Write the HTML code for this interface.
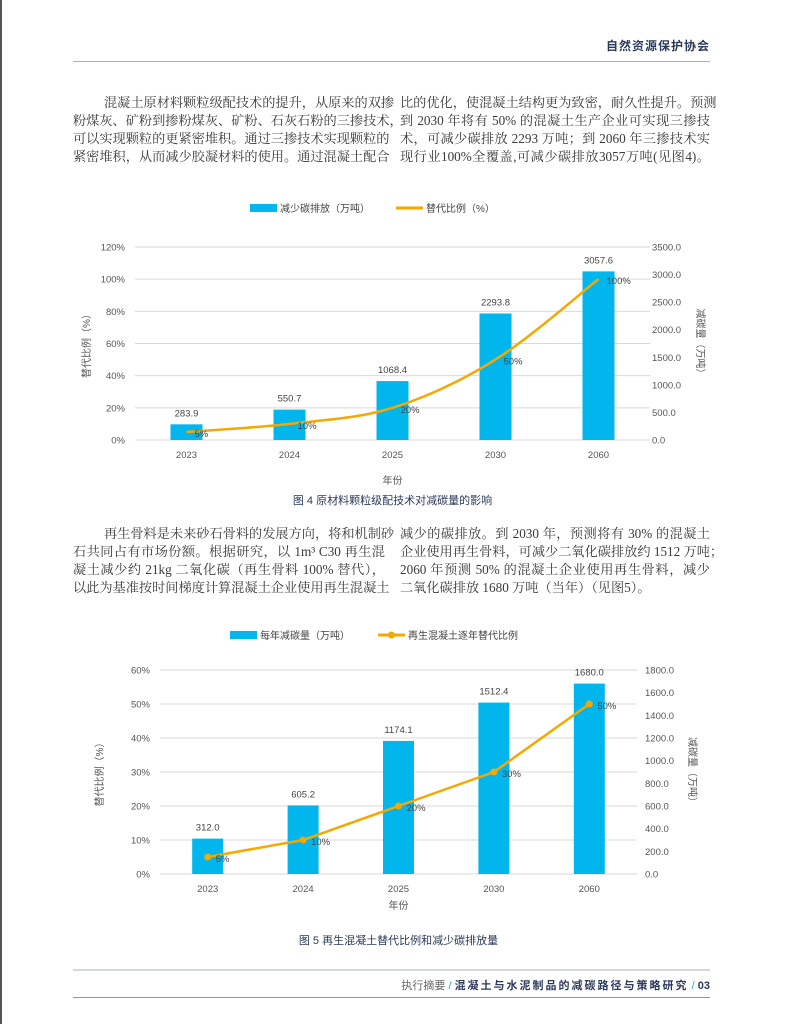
<!DOCTYPE html>
<html><head><meta charset="utf-8">
<style>
body{margin:0;width:791px;height:1024px;background:#fff;position:relative;overflow:hidden;font-family:"Liberation Serif","Noto Serif CJK SC",serif;color:#333}
.abs{position:absolute}
.ln{position:absolute;font-size:13.2px;height:18px;line-height:18px;text-align:justify;text-align-last:justify;white-space:nowrap;color:#3a3a3a}
.sans{font-family:"Liberation Sans","Noto Sans CJK SC",sans-serif}
</style></head><body>
<div class="abs" style="left:0;top:0;width:2px;height:1024px;background:#555"></div>
<div class="abs sans" style="right:81px;top:37px;font-size:12px;font-weight:bold;color:#2b3a5a;letter-spacing:1px">自然资源保护协会</div>
<div class="abs" style="left:73px;top:61px;width:637px;height:1px;background:#a8b0bd"></div>

<div>
<div class="ln" style="left:104px;top:94px;width:281px">混凝土原材料颗粒级配技术的提升，从原来的双掺</div>
<div class="ln" style="left:73px;top:112px;width:312px">粉煤灰、矿粉到掺粉煤灰、矿粉、石灰石粉的三掺技术，</div>
<div class="ln" style="left:73px;top:130px;width:312px">可以实现颗粒的更紧密堆积。通过三掺技术实现颗粒的</div>
<div class="ln" style="left:73px;top:148px;width:312px">紧密堆积，从而减少胶凝材料的使用。通过混凝土配合</div>
<div class="ln" style="left:400px;top:94px;width:310px">比的优化，使混凝土结构更为致密，耐久性提升。预测</div>
<div class="ln" style="left:400px;top:112px;width:310px">到 2030 年将有 50% 的混凝土生产企业可实现三掺技</div>
<div class="ln" style="left:400px;top:130px;width:310px">术，可减少碳排放 2293 万吨；到 2060 年三掺技术实</div>
<div class="ln" style="left:400px;top:148px;width:310px">现行业100%全覆盖,可减少碳排放3057万吨(见图4)。</div>
</div>

<svg class="abs" style="left:0;top:0" width="791" height="1024" id="svg"></svg>

<div>
<div class="ln" style="left:104px;top:525px;width:281px">再生骨料是未来砂石骨料的发展方向，将和机制砂</div>
<div class="ln" style="left:73px;top:543px;width:312px">石共同占有市场份额。根据研究，以 1m³ C30 再生混</div>
<div class="ln" style="left:73px;top:561px;width:312px">凝土减少约 21kg 二氧化碳（再生骨料 100% 替代），</div>
<div class="ln" style="left:73px;top:579px;width:312px">以此为基准按时间梯度计算混凝土企业使用再生混凝土</div>
<div class="ln" style="left:400px;top:525px;width:310px">减少的碳排放。到 2030 年，预测将有 30% 的混凝土</div>
<div class="ln" style="left:400px;top:543px;width:310px">企业使用再生骨料，可减少二氧化碳排放约 1512 万吨；</div>
<div class="ln" style="left:400px;top:561px;width:310px">2060 年预测 50% 的混凝土企业使用再生骨料，减少</div>
<div class="ln" style="left:400px;top:579px;width:250px;text-align-last:left">二氧化碳排放 1680 万吨（当年）（见图5）。</div>
</div>

<div class="abs" style="left:73px;top:969px;width:637px;height:2px;background:#d5d8dd"></div>
<div class="abs sans" style="right:81px;top:977px;font-size:11px;color:#666;white-space:nowrap">执行摘要 <span style="color:#29a8e0">/</span> <b style="color:#2b3a5a;letter-spacing:2px">混凝土与水泥制品的减碳路径与策略研究</b> <span style="color:#29a8e0">/</span> <b style="color:#2b3a5a">03</b></div>
<div class="abs" style="left:73px;top:997px;width:637px;height:1px;background:#8a96aa"></div>

<script>
const cats1=["2023","2024","2025","2030","2060"];
const bars1=[283.9,550.7,1068.4,2293.8,3057.6];
const pct1=[5,10,20,50,100];
const leftTicks1=[0,20,40,60,80,100,120];
const rightTicks1=[0,500,1000,1500,2000,2500,3000,3500];

const cats2=["2023","2024","2025","2030","2060"];
const bars2=[312.0,605.2,1174.1,1512.4,1680.0];
const pct2=[5,10,20,30,50];
const leftTicks2=[0,10,20,30,40,50,60];
const rightTicks2=[0,200,400,600,800,1000,1200,1400,1600,1800];

const NS="http://www.w3.org/2000/svg";
const svg=document.getElementById('svg');
function mk(tag,attrs,parent,text){const e=document.createElementNS(NS,tag);for(const k in attrs)e.setAttribute(k,attrs[k]);if(text!==undefined)e.textContent=text;(parent||svg).appendChild(e);return e;}
const F='"Liberation Sans","Noto Sans CJK SC",sans-serif';

function chart(o){
  const g=mk('g',{});
  
  
  const lmax=o.lt[o.lt.length-1], rmax=o.rt[o.rt.length-1];
  const yL=v=>o.y0-(o.y0-o.y1)*v/lmax;
  const yR=v=>o.y0-(o.y0-o.y1)*v/rmax;
  const xC=i=>o.x0+(o.x1-o.x0)*(i+0.5)/o.cats.length;
  o.lt.forEach(t=>{
    const l=mk('line',{x1:o.x0,x2:o.x1,y1:yL(t),y2:yL(t),stroke:'#d9d9d9','stroke-width':1},g);
    
    const tx=mk('text',{x:o.x0-10,y:yL(t)+3.5,'text-anchor':'end','font-size':9.5,fill:'#555','font-family':F},g,t+'%');
    
  });
  o.rt.forEach(t=>{
    const tx=mk('text',{x:o.rx,y:yR(t)+3.5,'font-size':9.5,fill:'#555','font-family':F},g,t.toFixed(1));
    
  });
  o.cats.forEach((c,i)=>{
    const x=xC(i),h=o.y0-yR(o.bars[i]);
    const r=mk('rect',{x:x-o.bw/2,y:yR(o.bars[i]),width:o.bw,height:h,fill:'#00b6ec'},g);
    
    const v=mk('text',{x:x,y:yR(o.bars[i])-8,'text-anchor':'middle','font-size':9.5,fill:'#444','font-family':F},g,o.bars[i].toFixed(1));
    
    const xl=mk('text',{x:x,y:o.y0+18,'text-anchor':'middle','font-size':9.5,fill:'#555','font-family':F},g,c);
    
  });
  const pts=o.pct.map((p,i)=>[xC(i),yL(p)]);
  let d='M'+pts[0][0]+','+pts[0][1];
  if(o.smooth){
    for(let i=0;i<pts.length-1;i++){
      const p0=pts[Math.max(i-1,0)],p1=pts[i],p2=pts[i+1],p3=pts[Math.min(i+2,pts.length-1)];
      const c1=[p1[0]+(p2[0]-p0[0])/6,p1[1]+(p2[1]-p0[1])/6],c2=[p2[0]-(p3[0]-p1[0])/6,p2[1]-(p3[1]-p1[1])/6];
      d+=' C'+c1+' '+c2+' '+p2;
    }
  } else pts.slice(1).forEach(p=>d+=' L'+p);
  const pl=mk('path',{d:d,fill:'none',stroke:'#f5a800','stroke-width':2.5},g);
  
  pts.forEach((p,i)=>{
    if(o.markers){const c=mk('circle',{cx:p[0],cy:p[1],r:3.5,fill:'#f5a800'},g);
      }
    const t=mk('text',{x:p[0]+8,y:p[1]+5,'font-size':9.5,fill:'#444','font-family':F},g,o.pct[i]+'%');
    
  });
  const lt=mk('text',{x:0,y:0,'font-size':10,fill:'#555','font-family':F,transform:`translate(${o.ltx},${(o.y0+o.y1)/2}) rotate(-90)`,'text-anchor':'middle'},g,'替代比例（%）');
  
  const rtt=mk('text',{x:0,y:0,'font-size':10,fill:'#555','font-family':F,transform:`translate(${o.rtx},${(o.y0+o.y1)/2}) rotate(90)`,'text-anchor':'middle'},g,o.rtitle);
  
  const xt=mk('text',{x:(o.x0+o.x1)/2,y:o.y0+o.xty,'text-anchor':'middle','font-size':10,fill:'#555','font-family':F},g,'年份');
  
  // legend
  const lg=mk('g',{},g);
  mk('rect',{x:o.lgx,y:o.lgy-4,width:27,height:8,fill:'#00b6ec'},lg);
  mk('text',{x:o.lgx+30,y:o.lgy+4,'font-size':10,fill:'#444','font-family':F},lg,o.l1);
  mk('line',{x1:o.lgx2,x2:o.lgx2+27,y1:o.lgy,y2:o.lgy,stroke:'#f5a800','stroke-width':3},lg);
  if(o.markers)mk('circle',{cx:o.lgx2+13.5,cy:o.lgy,r:3.5,fill:'#f5a800'},lg);
  mk('text',{x:o.lgx2+30,y:o.lgy+4,'font-size':10,fill:'#444','font-family':F},lg,o.l2);
  const cap=mk('text',{x:(o.x0+o.x1)/2,y:o.capy,'text-anchor':'middle','font-size':11,fill:'#2b3a5a','font-family':F},g,o.cap);
  
}
chart({name:'chart-fig4',cats:cats1,bars:bars1,pct:pct1,lt:leftTicks1,rt:rightTicks1,x0:135,x1:650,y0:440,y1:247,bw:32,rx:652,ltx:90,rtx:697,rtitle:'减碳量（万吨）',xty:44,smooth:true,markers:false,lgx:250,lgx2:396,lgy:208,l1:'减少碳排放（万吨）',l2:'替代比例（%）',capy:504,cap:'图 4 原材料颗粒级配技术对减碳量的影响'});
chart({name:'chart-fig5',cats:cats2,bars:bars2,pct:pct2,lt:leftTicks2,rt:rightTicks2,x0:160,x1:637,y0:874,y1:670,bw:31,rx:645,ltx:103,rtx:689,rtitle:'减碳量（万吨）',xty:35,smooth:false,markers:true,lgx:230,lgx2:378,lgy:635,l1:'每年减碳量（万吨）',l2:'再生混凝土逐年替代比例',capy:944,cap:'图 5 再生混凝土替代比例和减少碳排放量'});
</script>
</body></html>
